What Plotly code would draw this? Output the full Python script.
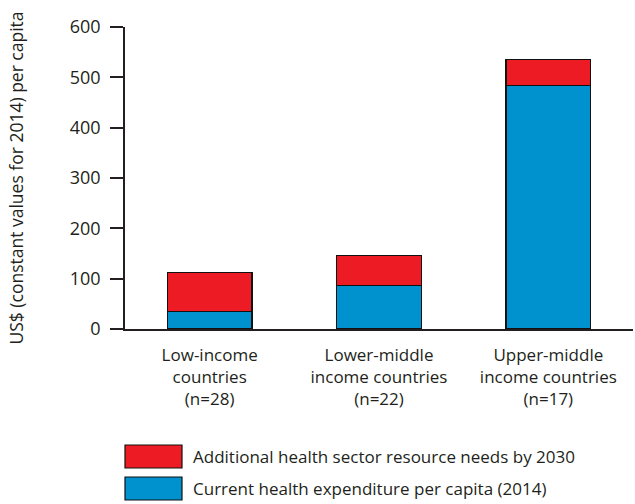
import plotly.graph_objects as go

categories = ["Low-income<br>countries<br>(n=28)",
              "Lower-middle<br>income countries<br>(n=22)",
              "Upper-middle<br>income countries<br>(n=17)"]
current_2014 = [34, 87, 483]
additional_2030 = [78, 59, 53]
series_names = ["Additional health sector resource needs by 2030",
                "Current health expenditure per capita (2014)"]
y_ticks = [0, 100, 200, 300, 400, 500, 600]

RED = "#ED1C24"
BLUE = "#0091CF"
TXT = "#231F20"
FONT = "Open Sans"

fig = go.Figure()
fig.add_trace(go.Bar(x=categories, y=current_2014, name=series_names[1],
                     marker=dict(color=BLUE, line=dict(color="#111", width=1.2)),
                     width=0.5, showlegend=False))
fig.add_trace(go.Bar(x=categories, y=additional_2030, name=series_names[0],
                     marker=dict(color=RED, line=dict(color="#111", width=1.2)),
                     width=0.5, showlegend=False))

W, H = 635, 504
ml, mr, mt, mb = 125, 2, 27, 175
pw, ph = W - ml - mr, H - mt - mb

def px_x(x):
    return (x - ml) / pw

def px_y(y):
    return (H - mb - y) / ph

shapes = []
annotations = []
legend_items = [(series_names[0], RED, 445, 468), (series_names[1], BLUE, 477, 500)]
for name, col, y0, y1 in legend_items:
    shapes.append(dict(type="rect", xref="paper", yref="paper",
                       x0=px_x(125), x1=px_x(182), y0=px_y(y1), y1=px_y(y0),
                       fillcolor=col, line=dict(color="#111", width=1.2)))
    annotations.append(dict(xref="paper", yref="paper", x=px_x(191), y=px_y((y0 + y1) / 2),
                            text=name, showarrow=False, xanchor="left", yanchor="middle",
                            font=dict(family=FONT, size=17, color=TXT)))

fig.update_layout(
    barmode="stack",
    width=W, height=H,
    margin=dict(l=ml, r=mr, t=mt, b=mb, autoexpand=False),
    plot_bgcolor="white", paper_bgcolor="white",
    font=dict(family=FONT, size=17, color=TXT),
    shapes=shapes, annotations=annotations,
    xaxis=dict(range=[-0.5, 2.5], showline=True, linecolor=TXT, linewidth=1.5,
               ticks="", showgrid=False, tickfont=dict(size=17, color=TXT),
               ticklabelstandoff=10),
    yaxis=dict(range=[0, 600], tickvals=y_ticks, showline=True, linecolor=TXT,
               linewidth=1.5, ticks="outside", ticklen=13, tickcolor=TXT, tickwidth=1.5,
               showgrid=False, zeroline=False, tickfont=dict(size=18, color=TXT),
               ticklabelstandoff=6,
               title=dict(text="US$ (constant values for 2014) per capita",
                          font=dict(size=17.5, color=TXT), standoff=42)),
)

fig.write_html("out.html", config={"displayModeBar": False},
               post_script="document.body.style.margin='0';document.body.style.overflow='hidden';")
